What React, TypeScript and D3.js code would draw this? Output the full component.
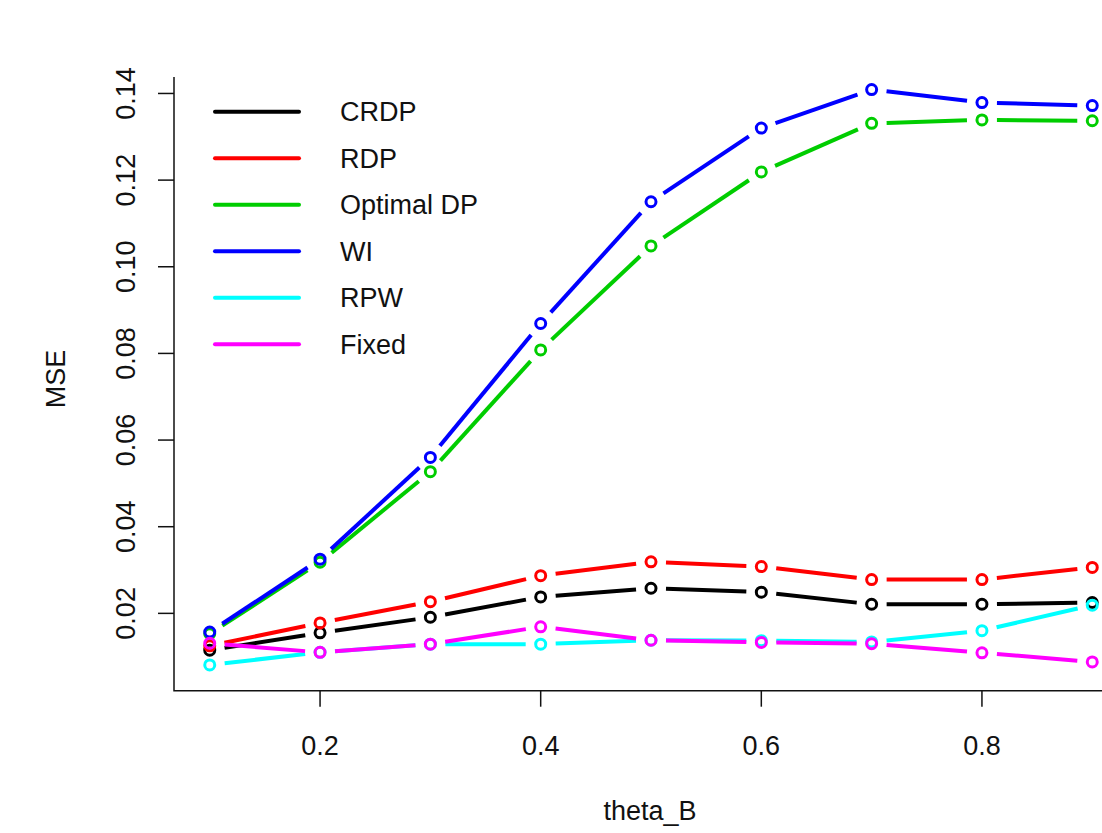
import React, { useEffect, useRef } from "react";
import * as d3 from "d3";

const theta = [0.1, 0.2, 0.3, 0.4, 0.5, 0.6, 0.7, 0.8, 0.9];

const crdp = [0.0115, 0.0155, 0.0191, 0.0238, 0.0258, 0.0249, 0.0221, 0.0221, 0.0225];
const rdp = [0.0125, 0.0178, 0.0227, 0.0287, 0.0319, 0.0308, 0.0278, 0.0278, 0.0306];
const optimalDp = [0.0153, 0.0318, 0.0527, 0.0808, 0.1048, 0.1219, 0.1331, 0.1339, 0.1337];
const wi = [0.0157, 0.0325, 0.056, 0.0869, 0.115, 0.132, 0.1409, 0.1379, 0.1372];
const rpw = [0.0081, 0.011, 0.0129, 0.0129, 0.0138, 0.0137, 0.0134, 0.016, 0.0219];
const fixed = [0.0131, 0.011, 0.0129, 0.0169, 0.0138, 0.0133, 0.013, 0.0109, 0.0088];

const seriesNames = ["CRDP", "RDP", "Optimal DP", "WI", "RPW", "Fixed"];
const seriesColors = ["#000000", "#ff0000", "#00cd00", "#0000ff", "#00ffff", "#ff00ff"];
const seriesValues = [crdp, rdp, optimalDp, wi, rpw, fixed];

const xTicks = [0.2, 0.4, 0.6, 0.8];
const yTicks = [0.02, 0.04, 0.06, 0.08, 0.1, 0.12, 0.14];

const W = 1102;
const H = 833;
const FONT = "'Liberation Sans', Arial, sans-serif";

const App = () => {
  const svgRef = useRef<SVGSVGElement | null>(null);

  useEffect(() => {
    const svg = d3.select(svgRef.current);
    svg.selectAll("*").remove();

    // plot region as R lays it out (usr extends past the data)
    const x = d3.scaleLinear().domain([0.0676, 0.9324]).range([174, 1128]);
    const y = d3.scaleLinear().domain([0.00215, 0.1438]).range([690.7, 77]);

    svg.append("rect").attr("width", W).attr("height", H).attr("fill", "white");

    // bty = "l"
    svg
      .append("path")
      .attr("d", `M${x.range()[0]},${y.range()[1]}V${y.range()[0]}H${x.range()[1]}`)
      .attr("fill", "none")
      .attr("stroke", "#111")
      .attr("stroke-width", 1.5);

    // y axis ticks + rotated labels
    const yAxis = svg.append("g");
    yTicks.forEach((t) => {
      yAxis
        .append("line")
        .attr("x1", 174)
        .attr("x2", 158)
        .attr("y1", y(t))
        .attr("y2", y(t))
        .attr("stroke", "#111")
        .attr("stroke-width", 1.5);
      yAxis
        .append("text")
        .attr("transform", `translate(135, ${y(t)}) rotate(-90)`)
        .attr("text-anchor", "middle")
        .style("font-family", FONT)
        .style("font-size", "27px")
        .style("fill", "#111")
        .text(t.toFixed(2));
    });

    // x axis ticks + labels
    const xAxis = svg.append("g");
    xTicks.forEach((t) => {
      xAxis
        .append("line")
        .attr("x1", x(t))
        .attr("x2", x(t))
        .attr("y1", 690.7)
        .attr("y2", 706.7)
        .attr("stroke", "#111")
        .attr("stroke-width", 1.5);
      xAxis
        .append("text")
        .attr("x", x(t))
        .attr("y", 755)
        .attr("text-anchor", "middle")
        .style("font-family", FONT)
        .style("font-size", "27px")
        .style("fill", "#111")
        .text(String(t));
    });

    svg
      .append("text")
      .attr("x", 650)
      .attr("y", 820)
      .attr("text-anchor", "middle")
      .style("font-family", FONT)
      .style("font-size", "27px")
      .style("fill", "#111")
      .text("theta_B");

    svg
      .append("text")
      .attr("transform", `translate(65, 379) rotate(-90)`)
      .attr("text-anchor", "middle")
      .style("font-family", FONT)
      .style("font-size", "27px")
      .style("fill", "#111")
      .text("MSE");

    // type = "b": segments with a gap around each point
    const gap = 15;
    seriesValues.forEach((vals, si) => {
      const g = svg.append("g");
      const pts = vals.map((v, i) => [x(theta[i]), y(v)]);
      for (let i = 0; i < pts.length - 1; i++) {
        const [x1, y1] = pts[i];
        const [x2, y2] = pts[i + 1];
        const len = Math.hypot(x2 - x1, y2 - y1);
        if (len <= 2 * gap) continue;
        const ux = (x2 - x1) / len;
        const uy = (y2 - y1) / len;
        g.append("line")
          .attr("x1", x1 + ux * gap)
          .attr("y1", y1 + uy * gap)
          .attr("x2", x2 - ux * gap)
          .attr("y2", y2 - uy * gap)
          .attr("stroke", seriesColors[si])
          .attr("stroke-width", 4);
      }
      g.selectAll("circle")
        .data(pts)
        .enter()
        .append("circle")
        .attr("cx", (d) => d[0])
        .attr("cy", (d) => d[1])
        .attr("r", 5)
        .attr("fill", "none")
        .attr("stroke", seriesColors[si])
        .attr("stroke-width", 3);
    });

    // legend (no box)
    const legend = svg.append("g");
    seriesNames.forEach((name, i) => {
      const ly = 111.7 + i * 46.5;
      legend
        .append("line")
        .attr("x1", 215)
        .attr("x2", 299)
        .attr("y1", ly)
        .attr("y2", ly)
        .attr("stroke", seriesColors[i])
        .attr("stroke-width", 4)
        .attr("stroke-linecap", "round");
      legend
        .append("text")
        .attr("x", 340)
        .attr("y", ly + 9.5)
        .style("font-family", FONT)
        .style("font-size", "27px")
        .style("fill", "#111")
        .text(name);
    });
  }, []);

  return (
    <svg
      ref={svgRef}
      width={W}
      height={H}
      style={{ position: "absolute", left: 0, top: 0, display: "block" }}
    ></svg>
  );
};

export default App;
